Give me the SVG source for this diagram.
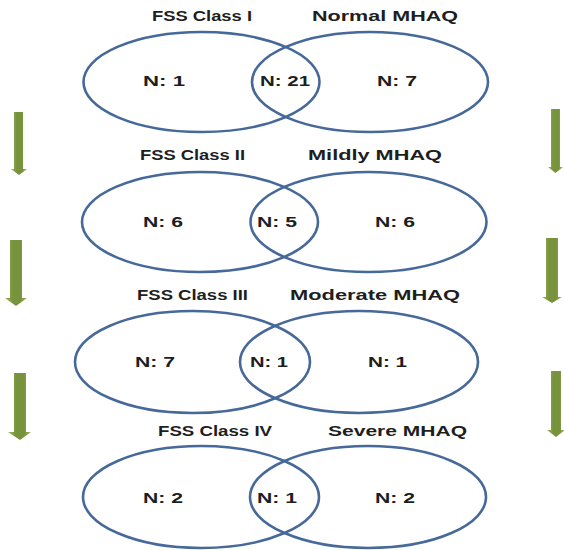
<svg xmlns="http://www.w3.org/2000/svg" width="564" height="550" viewBox="0 0 564 550">
<defs>
<linearGradient id="ag" x1="0" y1="0" x2="1" y2="0">
<stop offset="0" stop-color="#9bb65f"/>
<stop offset="0.35" stop-color="#77933c"/>
<stop offset="0.7" stop-color="#77933c"/>
<stop offset="1" stop-color="#9bb65f"/>
</linearGradient>
<style>
.e{fill:none;stroke:#46699a;stroke-width:2.6}
.t{font-family:"Liberation Sans",Arial,sans-serif;font-weight:bold;font-size:14px;fill:#1e1e1e}
.a{fill:url(#ag)}
</style>
</defs>
<rect width="564" height="550" fill="#fff"/>
<g id="row1">
<g id="fss1"><ellipse class="e" cx="201.5" cy="82" rx="118" ry="50"/><text class="t" x="152" y="21" textLength="100" lengthAdjust="spacingAndGlyphs">FSS Class I</text><text class="t" x="143" y="86" textLength="42" lengthAdjust="spacingAndGlyphs">N: 1</text></g>
<g id="mhaq1"><ellipse class="e" cx="370" cy="82" rx="118" ry="50"/><text class="t" x="312" y="21" textLength="146" lengthAdjust="spacingAndGlyphs">Normal MHAQ</text><text class="t" x="377" y="86" textLength="40" lengthAdjust="spacingAndGlyphs">N: 7</text></g>
<text class="t" x="260" y="86" textLength="50" lengthAdjust="spacingAndGlyphs">N: 21</text>
</g>
<g id="row2">
<g id="fss2"><ellipse class="e" cx="200" cy="222" rx="118" ry="50"/><text class="t" x="140" y="160" textLength="105" lengthAdjust="spacingAndGlyphs">FSS Class II</text><text class="t" x="143" y="227" textLength="40" lengthAdjust="spacingAndGlyphs">N: 6</text></g>
<g id="mhaq2"><ellipse class="e" cx="368.5" cy="222" rx="118" ry="50"/><text class="t" x="308" y="160" textLength="134" lengthAdjust="spacingAndGlyphs">Mildly MHAQ</text><text class="t" x="375" y="227" textLength="40" lengthAdjust="spacingAndGlyphs">N: 6</text></g>
<text class="t" x="257" y="227" textLength="40" lengthAdjust="spacingAndGlyphs">N: 5</text>
</g>
<g id="row3">
<g id="fss3"><ellipse class="e" cx="192.5" cy="362" rx="117.5" ry="51"/><text class="t" x="137" y="300" textLength="111" lengthAdjust="spacingAndGlyphs">FSS Class III</text><text class="t" x="135" y="367" textLength="40" lengthAdjust="spacingAndGlyphs">N: 7</text></g>
<g id="mhaq3"><ellipse class="e" cx="359" cy="362" rx="119" ry="51"/><text class="t" x="290" y="300" textLength="170" lengthAdjust="spacingAndGlyphs">Moderate MHAQ</text><text class="t" x="368" y="367" textLength="39" lengthAdjust="spacingAndGlyphs">N: 1</text></g>
<text class="t" x="250" y="367" textLength="38" lengthAdjust="spacingAndGlyphs">N: 1</text>
</g>
<g id="row4">
<g id="fss4"><ellipse class="e" cx="201" cy="497" rx="118" ry="51"/><text class="t" x="158" y="436" textLength="114" lengthAdjust="spacingAndGlyphs">FSS Class IV</text><text class="t" x="143" y="503" textLength="40" lengthAdjust="spacingAndGlyphs">N: 2</text></g>
<g id="mhaq4"><ellipse class="e" cx="368" cy="497" rx="118" ry="51"/><text class="t" x="328" y="436" textLength="139" lengthAdjust="spacingAndGlyphs">Severe MHAQ</text><text class="t" x="375" y="503" textLength="40" lengthAdjust="spacingAndGlyphs">N: 2</text></g>
<text class="t" x="257" y="503" textLength="40" lengthAdjust="spacingAndGlyphs">N: 1</text>
</g>
<g id="connectors">
<polygon class="a" points="14,112 23,112 23,169 27,169 19,175 11,169 14,169"/>
<polygon class="a" points="10,240 22,240 22,298 27,298 16,306 5,298 10,298"/>
<polygon class="a" points="14,373 26,373 26,432 31,432 20,440 8,432 14,432"/>
<polygon class="a" points="551,109 560,109 560,167 563,167 555.5,173 548,167 551,167"/>
<polygon class="a" points="546,238 558,238 558,297 562,297 552,303 542,297 546,297"/>
<polygon class="a" points="551,371 561,371 561,430 565,430 556,437 547,430 551,430"/>
</g>
</svg>
